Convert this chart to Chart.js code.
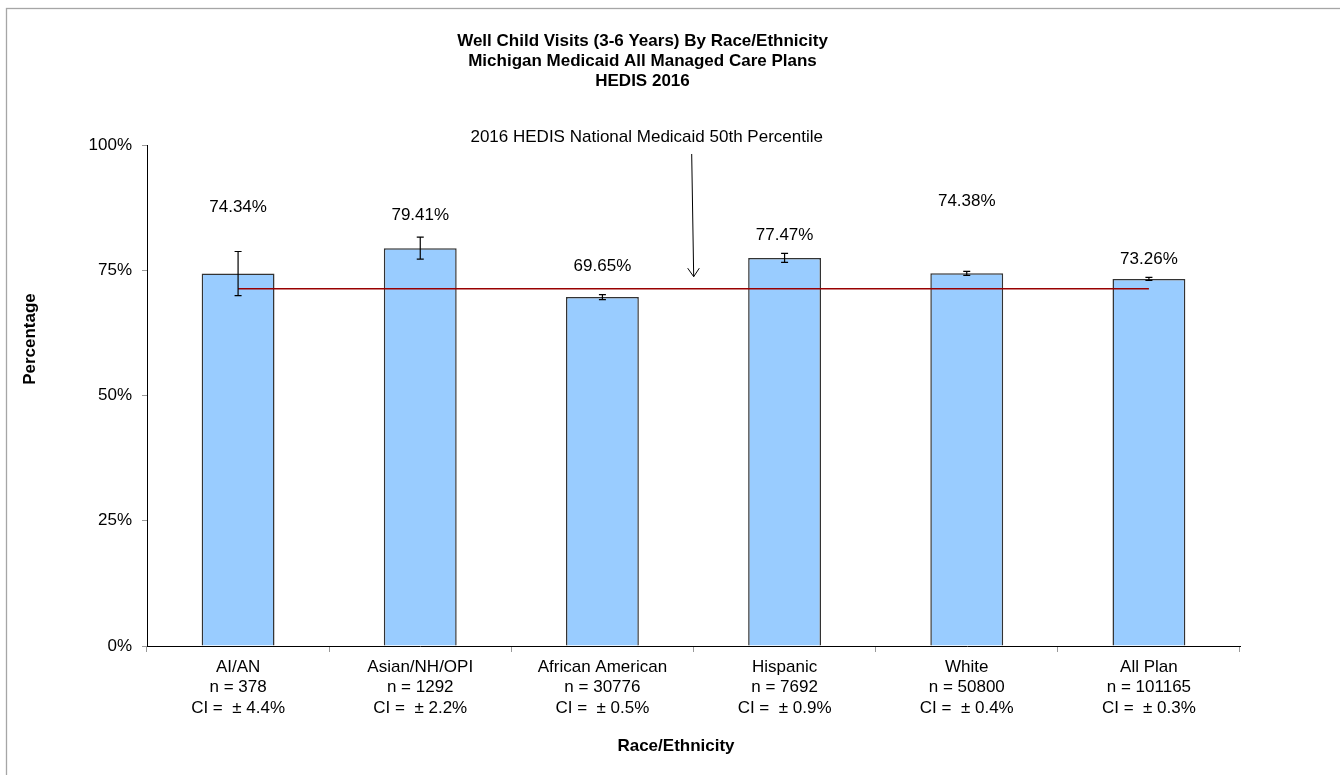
<!DOCTYPE html>
<html>
<head>
<meta charset="utf-8">
<script src="https://cdn.jsdelivr.net/npm/chart.js@4"></script>
<style>
  html, body { margin: 0; padding: 0; background: #fff; }
  #wrap { width: 1340px; height: 775px; }
</style>
</head>
<body>
<div id="wrap"><canvas id="wellChildChart" width="1340" height="775"></canvas></div>
<script>
// Data

const groups = ['AI/AN', 'Asian/NH/OPI', 'African American', 'Hispanic', 'White', 'All Plan']
const sampleSizes = [378, 1292, 30776, 7692, 50800, 101165]
const rates = [74.34, 79.41, 69.65, 77.47, 74.38, 73.26]
const confIntervals = [4.4, 2.2, 0.5, 0.9, 0.4, 0.3]
const nationalMedian = [71.32, 71.32, 71.32, 71.32, 71.32, 71.32]
const yTicks = [0, 25, 50, 75, 100]

const titleLines = [
  'Well Child Visits (3-6 Years) By Race/Ethnicity',
  'Michigan Medicaid All Managed Care Plans',
  'HEDIS 2016',
]
const benchmarkNote = '2016 HEDIS National Medicaid 50th Percentile'

const FONT = '"Liberation Sans", Arial, sans-serif'

// -------------------------

const xLabels = groups.map((g, i) => [g, `n = ${sampleSizes[i]}`, `CI =  \u00b1 ${confIntervals[i].toFixed(1)}%`])

// frame, error bars, value labels, titles, arrow
const decorations = {
  id: 'decorations',
  beforeDraw(chart) {
    const { ctx } = chart
    ctx.save()
    ctx.fillStyle = '#fff'
    ctx.fillRect(0, 0, chart.width, chart.height)
    ctx.strokeStyle = '#a6a6a6'
    ctx.lineWidth = 1.3
    ctx.strokeRect(6.5, 8.5, 1400, 800)
    ctx.restore()
  },
  afterDatasetsDraw(chart, args, opts) {
    const { ctx } = chart
    const y = chart.scales.y
    const bars = chart.getDatasetMeta(0).data
    ctx.save()

    // error bars
    ctx.strokeStyle = '#000'
    ctx.lineWidth = 1.2
    bars.forEach((bar, i) => {
      const top = y.getPixelForValue(rates[i] + confIntervals[i])
      const bottom = y.getPixelForValue(rates[i] - confIntervals[i])
      ctx.beginPath()
      ctx.moveTo(bar.x, top)
      ctx.lineTo(bar.x, bottom)
      ctx.moveTo(bar.x - 3.5, top)
      ctx.lineTo(bar.x + 3.5, top)
      ctx.moveTo(bar.x - 3.5, bottom)
      ctx.lineTo(bar.x + 3.5, bottom)
      ctx.stroke()
    })

    // value labels
    ctx.font = `17px ${FONT}`
    ctx.fillStyle = '#000'
    ctx.textAlign = 'center'
    ctx.textBaseline = 'middle'
    bars.forEach((bar, i) => {
      ctx.fillText(rates[i].toFixed(2) + '%', bar.x, bar.y - opts.labelLift[i])
    })
    ctx.restore()
  },
  afterDraw(chart) {
    const { ctx } = chart
    const y = chart.scales.y
    ctx.save()
    ctx.fillStyle = '#000'
    ctx.textAlign = 'center'
    ctx.textBaseline = 'middle'

    ctx.font = `bold 17px ${FONT}`
    titleLines.forEach((line, i) => ctx.fillText(line, 642.5, 41.5 + i * 20))

    ctx.fillText('Race/Ethnicity', 676, 746)

    ctx.save()
    ctx.translate(30, 339)
    ctx.rotate(-Math.PI / 2)
    ctx.fillText('Percentage', 0, 0)
    ctx.restore()

    // benchmark annotation
    ctx.font = `17px ${FONT}`
    ctx.fillText(benchmarkNote, 646.7, 137.7)
    const tipY = y.getPixelForValue(nationalMedian[0]) - 12
    ctx.strokeStyle = '#000'
    ctx.lineWidth = 1
    ctx.beginPath()
    ctx.moveTo(691.7, 154)
    ctx.lineTo(693.7, tipY)
    ctx.moveTo(687.7, tipY - 8.5)
    ctx.lineTo(693.7, tipY)
    ctx.lineTo(699.3, tipY - 8.5)
    ctx.stroke()
    ctx.restore()
  },
}

new Chart(document.getElementById('wellChildChart'), {
  data: {
    labels: xLabels,
    datasets: [
      {
        type: 'bar',
        data: rates,
        backgroundColor: '#99ccff',
        borderColor: '#333',
        borderWidth: 1.5,
        categoryPercentage: 1,
        barPercentage: 0.4,
        order: 2,
      },
      {
        type: 'line',
        data: nationalMedian,
        borderColor: '#990000',
        borderWidth: 1.5,
        pointRadius: 0,
        fill: false,
        order: 1,
      },
    ],
  },
  options: {
    responsive: false,
    animation: false,
    devicePixelRatio: 1,
    layout: { padding: { top: 145, right: 100, left: 0, bottom: 0 } },
    plugins: {
      legend: { display: false },
      tooltip: { enabled: false },
      title: { display: false },
      decorations: { labelLift: [66, 33, 31, 23, 72, 20] },
    },
    scales: {
      x: {
        offset: true,
        grid: { drawOnChartArea: false, drawTicks: true, tickLength: 6, color: '#999', offset: true },
        border: { display: true, color: '#000', width: 1 },
        ticks: {
          color: '#000',
          font: { family: FONT, size: 17, lineHeight: 1.2 },
          padding: 5,
          maxRotation: 0,
          autoSkip: false,
        },
        afterFit(scale) { scale.height = 129 },
      },
      y: {
        min: 0,
        max: 100,
        afterBuildTicks(scale) { scale.ticks = yTicks.map((v) => ({ value: v })) },
        grid: { drawOnChartArea: false, drawTicks: true, tickLength: 5, color: '#999' },
        border: { display: true, color: '#000', width: 1 },
        ticks: {
          color: '#000',
          font: { family: FONT, size: 17 },
          padding: 10,
          callback: (v) => v + '%',
        },
        afterFit(scale) { scale.width = 147 },
      },
    },
  },
  plugins: [decorations],
})
</script>
</body>
</html>
